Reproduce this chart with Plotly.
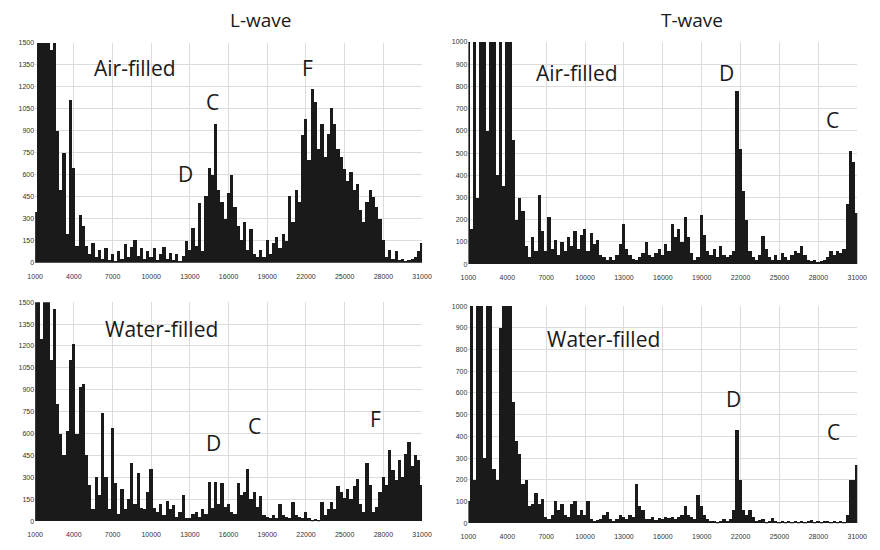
import plotly.graph_objects as go

W, H = 880, 550

# frequency grid (Hz) for the sampled spectra
freq = list(range(1000, 31001, 250))

l_air = [
    350, 1500, 1500, 1500,
    1500, 1450, 1500, 900,
    500, 750, 200, 1110,
    650, 120, 330, 250,
    120, 60, 140, 40,
    90, 30, 100, 20,
    60, 15, 80, 30,
    130, 40, 110, 160,
    50, 100, 30, 80,
    40, 100, 20, 60,
    110, 30, 70, 20,
    60, 15, 50, 150,
    90, 240, 120, 410,
    80, 460, 650, 600,
    950, 500, 420, 300,
    480, 600, 380, 250,
    160, 280, 90, 230,
    60, 40, 90, 40,
    160, 60, 140, 180,
    100, 200, 150, 460,
    280, 500, 420, 870,
    980, 700, 1190, 1100,
    780, 950, 720, 880,
    1060, 950, 780, 720,
    640, 560, 620, 500,
    540, 360, 280, 420,
    500, 450, 380, 300,
    160, 40, 90, 30,
    80, 20, 30, 15,
    20, 30, 40, 80,
    140,
]

t_air = [
    1000, 160, 1000, 300,
    1000, 1000, 600, 1000,
    1000, 400, 1000, 350,
    1000, 1000, 560, 200,
    300, 240, 80, 30,
    120, 60, 310, 150,
    60, 210, 70, 110,
    40, 100, 60, 120,
    80, 150, 70, 130,
    160, 60, 140, 90,
    110, 40, 30, 20,
    30, 20, 40, 90,
    180, 70, 40, 25,
    20, 30, 50, 100,
    40, 30, 50, 70,
    40, 90, 60, 180,
    120, 160, 100, 210,
    120, 50, 20, 30,
    220, 130, 60, 40,
    70, 30, 80, 40,
    30, 40, 60, 780,
    520, 330, 200, 60,
    30, 20, 40, 125,
    70, 30, 20, 40,
    20, 50, 30, 20,
    40, 60, 50, 80,
    40, 20, 15, 20,
    10, 15, 20, 30,
    60, 40, 60, 50,
    70, 270, 510, 460,
    230,
]

l_water = [
    1500, 1500, 1250, 1500,
    1500, 1100, 1450, 800,
    600, 450, 620, 1100,
    1210, 600, 920, 940,
    450, 250, 80, 300,
    180, 740, 300, 80,
    640, 260, 50, 220,
    80, 150, 400, 120,
    330, 90, 80, 200,
    360, 90, 60, 120,
    40, 140, 80, 110,
    30, 60, 180, 20,
    20, 50, 60, 30,
    80, 50, 270, 90,
    270, 120, 260, 100,
    120, 60, 50, 260,
    180, 200, 360, 150,
    200, 100, 170, 40,
    30, 20, 40, 20,
    120, 40, 30, 20,
    130, 40, 30, 20,
    60, 20, 10, 15,
    10, 130, 40, 80,
    130, 80, 240, 200,
    160, 220, 150, 240,
    290, 120, 60, 400,
    250, 60, 100, 200,
    300, 250, 490, 350,
    280, 420, 300, 460,
    540, 380, 450, 420,
    250,
]

t_water = [
    100, 1000, 200, 1000,
    1000, 300, 1000, 1000,
    250, 200, 900, 1000,
    1000, 1000, 560, 380,
    320, 180, 200, 80,
    90, 140, 90, 110,
    30, 20, 40, 100,
    60, 90, 40, 30,
    90, 100, 40, 60,
    40, 100, 20, 10,
    15, 20, 40, 50,
    20, 10, 20, 40,
    30, 20, 40, 30,
    180, 80, 60, 20,
    20, 30, 15, 25,
    20, 30, 25, 30,
    20, 30, 40, 80,
    40, 30, 20, 130,
    80, 40, 20, 10,
    10, 5, 10, 20,
    10, 20, 60, 430,
    200, 60, 40, 60,
    30, 10, 15, 20,
    5, 10, 25, 10,
    5, 10, 5, 10,
    5, 10, 5, 10,
    5, 10, 15, 5,
    10, 5, 10, 10,
    5, 10, 5, 10,
    5, 40, 200, 200,
    270,
]

x_ticks = [1000, 4000, 7000, 10000, 13000, 16000, 19000, 22000, 25000, 28000, 31000]
y_ticks_l = [0, 150, 300, 450, 600, 750, 900, 1050, 1200, 1350, 1500]
y_ticks_t = [0, 100, 200, 300, 400, 500, 600, 700, 800, 900, 1000]

col_titles = ["L-wave", "T-wave"]
panel_labels = ["Air-filled", "Water-filled"]


def fx(px):
    return px / W


def fy(py):
    return 1 - py / H


# panel boxes in pixels: (left, right, top, bottom)
panels = [
    ("x", "y", l_air, 1500, y_ticks_l, (27.7, 422.7, 39, 262)),
    ("x2", "y2", t_air, 1000, y_ticks_t, (470, 867, 38.5, 263.5)),
    ("x3", "y3", l_water, 1500, y_ticks_l, (27.7, 422.7, 302, 524)),
    ("x4", "y4", t_water, 1000, y_ticks_t, (470, 867, 306, 526)),
]

fig = go.Figure()
layout = dict(
    width=W, height=H, margin=dict(l=0, r=0, t=0, b=0),
    paper_bgcolor="white", plot_bgcolor="white", showlegend=False,
    bargap=0,
)

tick_font = dict(family="Liberation Sans", size=7, color="#333333")

for i, (xa, ya, vals, ymax, yt, (l, r, t, b)) in enumerate(panels):
    fig.add_trace(go.Bar(
        x=freq, y=vals, xaxis=xa, yaxis=ya, width=250,
        marker=dict(color="#1a1a1a", line=dict(width=0)),
        hoverinfo="skip",
    ))
    xkey = "xaxis" + ("" if i == 0 else str(i + 1))
    ykey = "yaxis" + ("" if i == 0 else str(i + 1))
    layout[xkey] = dict(
        domain=[fx(l), fx(r)], anchor=ya, range=[1000, 31000],
        tickvals=x_ticks, ticktext=[str(v) for v in x_ticks],
        showgrid=True, gridcolor="#dcdcdc", gridwidth=1,
        zeroline=False, showline=False, ticks="", tickfont=tick_font,
        ticklabelstandoff=8,
    )
    layout[ykey] = dict(
        domain=[fy(b), fy(t)], anchor=xa, range=[0, ymax],
        tickvals=yt, ticktext=[str(v) for v in yt],
        showgrid=True, gridcolor="#dcdcdc", gridwidth=1,
        zeroline=False, showline=False, ticks="", tickfont=tick_font,
    )

fig.update_layout(**layout)

# white label boxes (drawn between grid and traces)
boxes = [(75, 187, 47, 90), (525, 637, 50, 93), (75, 238, 303, 352), (526, 690, 313, 362)]
for (x0, x1, y0, y1) in boxes:
    fig.add_shape(type="rect", xref="paper", yref="paper",
                  x0=fx(x0), x1=fx(x1), y0=fy(y1), y1=fy(y0),
                  fillcolor="white", line=dict(width=0), layer="between")

texts = [
    (col_titles[0], 258, 16, 19), (col_titles[1], 698, 16, 19),
    (panel_labels[0], 130, 65, 21), ("F", 306, 65, 21), ("C", 209, 99, 21), ("D", 181, 172, 21),
    (panel_labels[0], 581, 70, 21), ("D", 733, 70, 21), ("C", 842, 117, 21),
    (panel_labels[1], 157, 329, 21), ("F", 375, 420, 21), ("C", 252, 427, 21), ("D", 210, 445, 21),
    (panel_labels[1], 608, 339, 21), ("D", 741, 400, 21), ("C", 843, 434, 21),
]
for (txt, px, py, sz) in texts:
    fig.add_annotation(text=txt, x=fx(px), y=fy(py), xref="paper", yref="paper",
                       showarrow=False, xanchor="center", yanchor="middle",
                       font=dict(family="Open Sans", size=sz, color="#1a1a1a"))

fig.write_html("out.html")
